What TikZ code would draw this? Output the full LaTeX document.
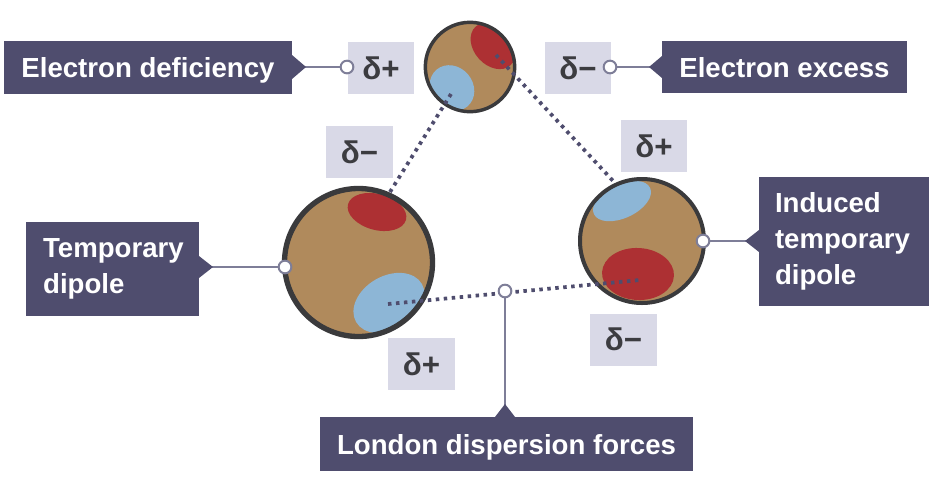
\documentclass[tikz,border=0pt]{standalone}
\usepackage{fontspec}
\setmainfont{Liberation Sans}
\definecolor{boxc}{HTML}{4F4D6E}
\definecolor{lightc}{HTML}{D9D9E7}
\definecolor{brownc}{HTML}{B08A5C}
\definecolor{redc}{HTML}{AD3033}
\definecolor{bluec}{HTML}{8DB6D6}
\definecolor{ringc}{HTML}{3A3A3C}
\definecolor{leadc}{HTML}{7E7E98}
\definecolor{deltac}{HTML}{3C3C40}
\tikzset{
  x=0.75pt,y=-0.75pt,
  multibox/.style={fill=boxc,text=white,font=\bfseries\fontsize{20.7}{27}\selectfont,inner sep=0pt,outer sep=0pt,align=left},
  labelbox/.style={multibox,align=center,text depth=0pt},
  deltabox/.style={fill=lightc,text=deltac,font=\bfseries\fontsize{23.5}{26}\selectfont,inner sep=0pt,outer sep=0pt,minimum width=50pt,minimum height=39pt},
  ring/.style={circle,draw=ringc,inner sep=0pt,outer sep=0pt},
  opendot/.style={circle,draw=leadc,fill=white,line width=1.5pt,inner sep=0pt,outer sep=0pt,minimum size=9.5pt},
  leader/.style={draw=leadc,line width=2pt},
  ptr/.style={fill=boxc},
  bond/.style={draw=boxc,line width=2.8pt,dash pattern=on 2.6pt off 3.4pt},
}
\begin{document}
\begin{tikzpicture}
\useasboundingbox[fill=white] (0,0) rectangle (944,489);
% molecule fills and charge regions
\fill[brownc] (470,67) circle (44);
\begin{scope}
  \clip (470,67) circle (44);
  \fill[redc] (493,46) ellipse [x radius=26,y radius=19,rotate=-48];
  \fill[bluec] (452,88) ellipse [x radius=24,y radius=21,rotate=-50];
\end{scope}
\fill[brownc] (358.5,262.5) circle (74);
\begin{scope}
  \clip (358.5,262.5) circle (74);
  \fill[redc] (377,212) ellipse [x radius=30,y radius=18,rotate=-15];
  \fill[bluec] (389,303) ellipse [x radius=38,y radius=27,rotate=30];
\end{scope}
\fill[brownc] (642,241) circle (62);
\begin{scope}
  \clip (642,241) circle (62);
  \fill[bluec] (622,201) ellipse [x radius=31,y radius=17,rotate=25];
  \fill[redc] (638,274) ellipse [x radius=36,y radius=26,rotate=-3];
\end{scope}
\node[ring,line width=2.6pt,minimum size=67pt] (top) at (470,67) {};
\node[ring,line width=4pt,minimum size=111pt] (left) at (358.5,262.5) {};
\node[ring,line width=3pt,minimum size=93pt] (right) at (642,241) {};
% bonds
\coordinate (tA) at (451,94);
\coordinate (tB) at (496,55);
\coordinate (lA) at (390,192);
\coordinate (lB) at (388,304);
\coordinate (rA) at (615,183);
\coordinate (rB) at (640,280);
\draw[bond] (tA) -- (lA);
\draw[bond] (tB) -- (rA);
\draw[bond] (lB) -- (rB);
% label boxes
\node[labelbox,minimum width=216pt,minimum height=39.75pt] (def) at (148,67.5) {Electron deficiency};
\node[labelbox,minimum width=183.75pt,minimum height=39pt] (exc) at (784.5,67) {Electron excess};
\node[multibox,minimum width=129.75pt,minimum height=70.5pt,text width=104pt] (tmp) at (112.5,269) {Temporary\\dipole};
\node[multibox,minimum width=127.5pt,minimum height=96.75pt,text width=103.5pt] (ind) at (844,241.5) {Induced\\temporary\\dipole};
\node[labelbox,minimum width=279.75pt,minimum height=40.5pt] (lon) at (506.5,444) {London dispersion forces};
% delta boxes
\node[deltabox] (d1) at (381,68) {δ+};
\node[deltabox] (d2) at (578,68) {δ−};
\node[deltabox] (d3) at (359.5,152) {δ−};
\node[deltabox] (d4) at (654,146) {δ+};
\node[deltabox] (d5) at (623.5,339.5) {δ−};
\node[deltabox] (d6) at (421.5,364) {δ+};
% leader dots
\node[opendot] (n1) at (347,67) {};
\node[opendot] (n2) at (610,67) {};
\node[opendot] (n3) at (285,267) {};
\node[opendot] (n4) at (703,241) {};
\node[opendot] (n5) at (505,291) {};
% leaders
\draw[leader] (def.east |- n1) -- (n1);
\draw[leader] (exc.west |- n2) -- (n2);
\draw[leader] (tmp.east |- n3) -- (n3);
\draw[leader] (ind.west |- n4) -- (n4);
\draw[leader] (lon.north -| n5) -- (n5);
% pointers
\fill[ptr] (def.east |- n1) ++(0,-12) -- ++(14,12) -- ++(-14,12) -- cycle;
\fill[ptr] (exc.west |- n2) ++(0,-11) -- ++(-13,11) -- ++(13,11) -- cycle;
\fill[ptr] (tmp.east |- n3) ++(0,-11) -- ++(14,11) -- ++(-14,11) -- cycle;
\fill[ptr] (ind.west |- n4) ++(0,-11) -- ++(-14,11) -- ++(14,11) -- cycle;
\fill[ptr] (lon.north -| n5) ++(-10,0) -- ++(10,-13) -- ++(10,13) -- cycle;
\end{tikzpicture}
\end{document}
